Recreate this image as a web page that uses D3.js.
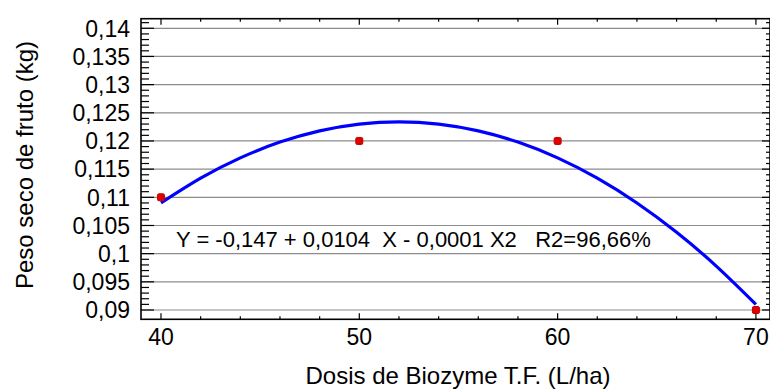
<!DOCTYPE html>
<html><head><meta charset="utf-8">
<script src="https://cdn.jsdelivr.net/npm/d3@7"></script>
<style>html,body{margin:0;padding:0;background:#fff;}svg{display:block;}</style>
</head><body>
<script>
// Observed data points
const doses = [40, 50, 60, 70];
const weights = [0.110, 0.120, 0.120, 0.090];
// Fitted curve
const curveX = [40, 42, 44, 46, 48, 50, 52, 54, 56, 58, 60, 62, 64, 66, 68, 70];
const curveY = [0.1090, 0.1134, 0.1170, 0.1198, 0.1218, 0.1230, 0.1234, 0.1230, 0.1218, 0.1198, 0.1170, 0.1134, 0.1090, 0.1038, 0.0978, 0.0910];
// Tick labels
const yTickValues = [0.09, 0.095, 0.1, 0.105, 0.11, 0.115, 0.12, 0.125, 0.13, 0.135, 0.14];
const yTickLabels = ["0,09", "0,095", "0,1", "0,105", "0,11", "0,115", "0,12", "0,125", "0,13", "0,135", "0,14"];
const xTickValues = [40, 50, 60, 70];
const xTickLabels = ["40", "50", "60", "70"];
const equationText = "Y = -0,147 + 0,0104  X - 0,0001 X2   R2=96,66%";
const xTitle = "Dosis de Biozyme T.F. (L/ha)";
const yTitle = "Peso seco de fruto (kg)";

const W = 770, H = 389;
const L = 141, R = 770, T = 18.7, B = 319.3;
const svg = d3.select("body").append("svg").attr("width", W).attr("height", H);
const font = "'Liberation Sans', Arial, sans-serif";

const x = d3.scaleLinear().domain([38.992, 70.710]).range([L, R]);
const y = d3.scaleLinear().domain([0.08835, 0.14170]).range([B, T]);

// gridlines
svg.append("g").selectAll("line").data(yTickValues).join("line")
  .attr("x1", L).attr("x2", R)
  .attr("y1", d => y(d)).attr("y2", d => y(d))
  .attr("stroke", "#8c8c8c").attr("stroke-width", 1.2);

// frame
svg.append("rect").attr("x", L).attr("y", T).attr("width", R - L).attr("height", B - T)
  .attr("fill", "none").attr("stroke", "#000").attr("stroke-width", 1.6);

// x ticks (every 2, major every 10) bottom & top, inward
const xMinor = d3.range(40, 71, 2);
const xt = svg.append("g").attr("stroke", "#000").attr("stroke-width", 1.2);
xMinor.forEach(v => {
  const len = (v % 10 === 0) ? 6 : 3;
  xt.append("line").attr("x1", x(v)).attr("x2", x(v)).attr("y1", B).attr("y2", B - len);
  xt.append("line").attr("x1", x(v)).attr("x2", x(v)).attr("y1", T).attr("y2", T + len);
});
// y ticks (every 0.001, major every 0.005)
const yMinor = d3.range(0, 51).map(i => 0.09 + i * 0.001).concat([0.141]);
yMinor.forEach((v, i) => {
  const major = Math.abs(Math.round(v * 1000) % 5) === 0;
  xt.append("line").attr("x1", L).attr("x2", L + (major ? 13 : 8)).attr("y1", y(v)).attr("y2", y(v));
  xt.append("line").attr("x1", R).attr("x2", R - (major ? 8 : 4)).attr("y1", y(v)).attr("y2", y(v));
});

// tick labels
svg.append("g").selectAll("text").data(yTickValues).join("text")
  .attr("x", L - 11).attr("y", d => y(d)).attr("dy", "0.36em")
  .attr("text-anchor", "end").attr("font-family", font).attr("font-size", 23)
  .text((d, i) => yTickLabels[i]);
svg.append("g").selectAll("text").data(xTickValues).join("text")
  .attr("x", d => x(d)).attr("y", 345)
  .attr("text-anchor", "middle").attr("font-family", font).attr("font-size", 23)
  .text((d, i) => xTickLabels[i]);

// axis titles
svg.append("text").attr("x", 458).attr("y", 384)
  .attr("text-anchor", "middle").attr("font-family", font).attr("font-size", 24)
  .text(xTitle);
svg.append("text").attr("transform", `translate(33,${(T + B) / 2 - 4}) rotate(-90)`)
  .attr("text-anchor", "middle").attr("font-family", font).attr("font-size", 24)
  .text(yTitle);

// equation
svg.append("text").attr("x", 176).attr("y", 247)
  .attr("font-family", font).attr("font-size", 22)
  .style("white-space", "pre")
  .text(equationText);

// curve
const line = d3.line().x(d => x(d[0])).y(d => y(d[1])).curve(d3.curveNatural);
svg.append("path").datum(curveX.map((v, i) => [v, curveY[i]]))
  .attr("d", line).attr("fill", "none").attr("stroke", "#0000ff").attr("stroke-width", 3.2);

// points
svg.append("g").selectAll("rect").data(doses).join("rect")
  .attr("x", d => x(d) - 3.5).attr("y", (d, i) => y(weights[i]) - 3.5)
  .attr("width", 7).attr("height", 7).attr("rx", 1.5)
  .attr("fill", "#e00000").attr("stroke", "#c00000").attr("stroke-width", 1);
</script>
</body></html>
